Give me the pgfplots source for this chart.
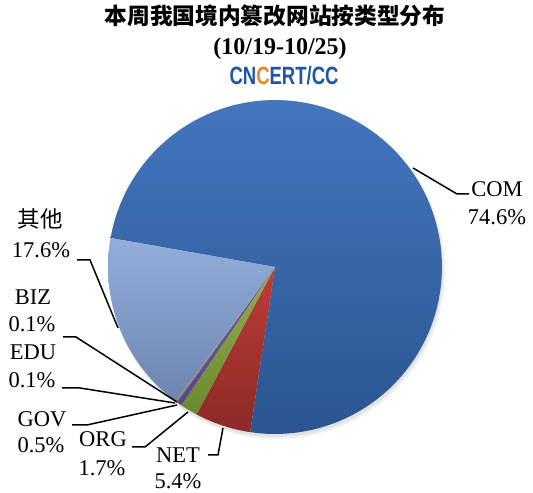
\documentclass[border=0pt]{standalone}
\usepackage{pgfplots}
\pgfplotsset{compat=1.18}
\usepackage{fontspec}
\setmainfont{Liberation Serif}
\newfontfamily\cjk{Noto Sans CJK SC}
\newfontfamily\logofont{Liberation Sans}
\definecolor{comT}{HTML}{4476BE}
\definecolor{comB}{HTML}{2A5590}
\definecolor{netT}{HTML}{BE3C38}
\definecolor{netB}{HTML}{8C2A27}
\definecolor{orgT}{HTML}{93B24A}
\definecolor{orgB}{HTML}{6A8830}
\definecolor{govT}{HTML}{7558A0}
\definecolor{govB}{HTML}{5C4488}
\definecolor{eduT}{HTML}{4BACC6}
\definecolor{eduB}{HTML}{3A8EA6}
\definecolor{bizT}{HTML}{F79646}
\definecolor{bizB}{HTML}{D07830}
\definecolor{othT}{HTML}{93AEDC}
\definecolor{othB}{HTML}{6C84AE}
\definecolor{logoblue}{HTML}{1F57A4}
\definecolor{logoorange}{HTML}{E8892A}
% #1 cumulative share before this slice (%), #2 share (%), #3 top colour, #4 bottom colour
\newcommand{\piewedge}[4]{%
  \pgfmathsetmacro\angA{170-3.6*#1}%
  \pgfmathsetmacro\angB{170-3.6*(#1+#2)}%
  \edef\tmp{\noexpand\addplot[draw=none, top color=#3, bottom color=#4, domain=\angB:\angA, samples=90]
    ({275+167*cos(x)},{226+167*sin(x)}) -- (axis cs:275,226) -- cycle;}%
  \tmp
}
\begin{document}
\begin{tikzpicture}
\begin{axis}[at={(0,0)}, anchor=south west, scale only axis,
  width=533bp, height=493bp, xmin=0, xmax=533, ymin=0, ymax=493,
  hide axis, clip=false]
% soft shadow
\addplot[draw=none, fill=black, fill opacity=0.06, domain=0:360, samples=120] ({277+168*cos(x)},{222+168*sin(x)});
\addplot[draw=none, fill=black, fill opacity=0.06, domain=0:360, samples=120] ({276+167*cos(x)},{223+167*sin(x)});
% slices, clockwise from 170 degrees
\piewedge{0}{74.6}{comT}{comB}
\piewedge{74.6}{5.4}{netT}{netB}
\piewedge{80.0}{1.7}{orgT}{orgB}
\piewedge{81.7}{0.5}{govT}{govB}
\piewedge{82.2}{0.1}{eduT}{eduB}
\piewedge{82.3}{0.1}{bizT}{bizB}
\piewedge{82.4}{17.6}{othT}{othB}
% leader lines
\begin{scope}[line width=1.5bp]
\draw (axis cs:413,325) -- (axis cs:457,299) -- (axis cs:469,299);
\draw (axis cs:77,233) -- (axis cs:90,233) -- (axis cs:118,165);
\draw (axis cs:63,156) -- (axis cs:76,156) -- (axis cs:177,91);
\draw (axis cs:62,105) -- (axis cs:80,105) -- (axis cs:175,90);
\draw (axis cs:72,68) -- (axis cs:87,68) -- (axis cs:177,88);
\draw (axis cs:132,46) -- (axis cs:145,46) -- (axis cs:188,81);
\draw (axis cs:208,38) -- (axis cs:218,38) -- (axis cs:223,65);
\end{scope}
% labels
\begin{scope}[every node/.style={anchor=base, inner sep=0pt, font=\fontsize{22.5bp}{27bp}\selectfont}]
\node at (axis cs:497,296) {COM};
\node at (axis cs:497,268) {74.6\%};
\node at (axis cs:40,265) {\cjk 其他};
\node at (axis cs:41,235) {17.6\%};
\node at (axis cs:33,188) {BIZ};
\node at (axis cs:32,161) {0.1\%};
\node at (axis cs:33,133) {EDU};
\node at (axis cs:32,105) {0.1\%};
\node at (axis cs:42,66) {GOV};
\node at (axis cs:41,40) {0.5\%};
\node at (axis cs:103,46) {ORG};
\node at (axis cs:102,18) {1.7\%};
\node at (axis cs:178,31) {NET};
\node at (axis cs:178,5) {5.4\%};
\end{scope}
% title
\node[anchor=base, inner sep=0pt, font=\cjk\bfseries\fontsize{22.7bp}{26bp}\selectfont] at (axis cs:275,468) {本周我国境内篡改网站按类型分布};
\node[anchor=base, inner sep=0pt, font=\bfseries\fontsize{24bp}{28bp}\selectfont] at (axis cs:280,438) {(10/19-10/25)};
\node[anchor=base, inner sep=0pt, xscale=0.74, text=logoblue, font=\logofont\bfseries\fontsize{25bp}{28bp}\selectfont] at (axis cs:284,408) {CN{\color{logoorange}C}ERT/CC};
\end{axis}
\path[use as bounding box] (0,0) rectangle (533bp,493bp);
\end{tikzpicture}
\end{document}
